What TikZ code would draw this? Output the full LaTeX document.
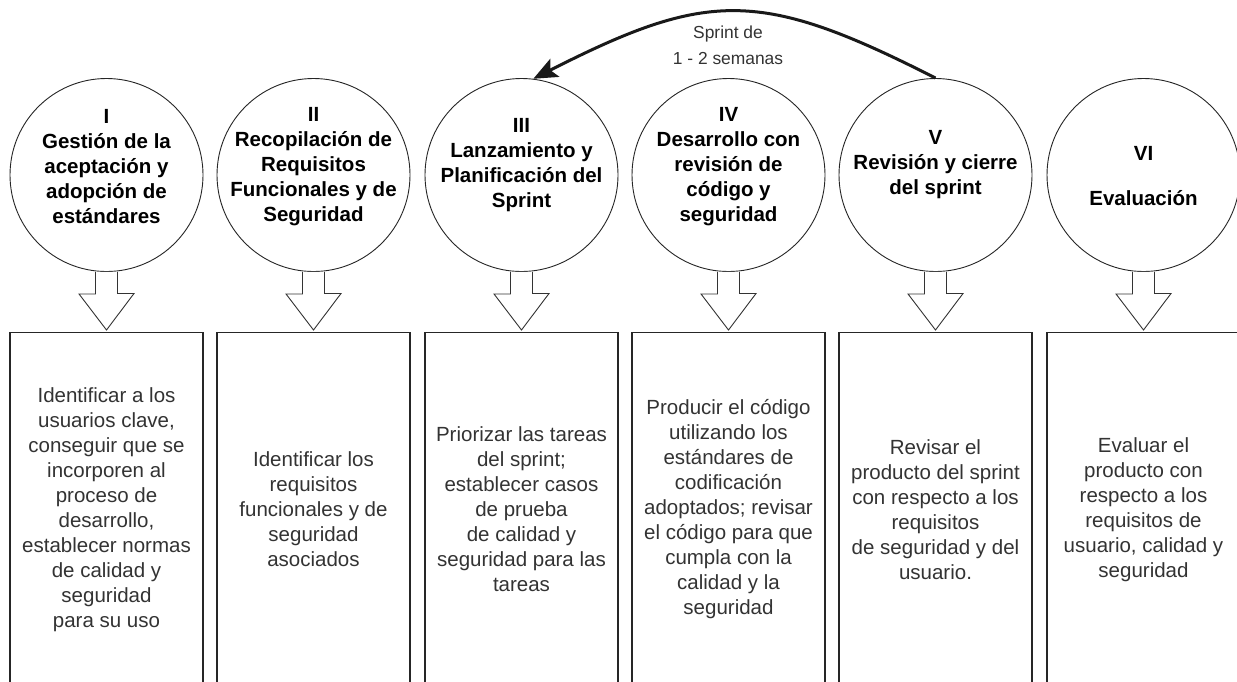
\documentclass[tikz,border=0pt]{standalone}
\usepackage{fontspec}
\setmainfont{Liberation Sans}
\usetikzlibrary{arrows.meta}
\begin{document}
\begin{tikzpicture}[x=1pt,y=-1pt,
  phase/.style={circle,draw=black!85,line width=0.9pt,fill=white,
    minimum size=193pt,inner sep=0pt},
  phasetext/.style={align=center,text=black,
    font=\fontsize{20.5}{25}\selectfont\bfseries},
  taskbox/.style={rectangle,draw=black!85,line width=1.1pt,fill=white,
    minimum width=193pt,minimum height=354pt,inner sep=0pt,anchor=north,
    align=center,text=black!80,font=\fontsize{20.5}{25}\selectfont},
  blockarrow/.style={draw=black!80,line width=0.9pt,fill=white,line join=miter},
  sprintarrow/.style={line width=3pt,black!90,-{Stealth[length=24pt,width=20pt,inset=5pt]}},
  looplabel/.style={align=center,text=black!80,font=\fontsize{17.4}{26}\selectfont}
]
\useasboundingbox (0,0) rectangle (1237,681);
\clip (0,0) rectangle (1237,681);

% phase circles
\node[phase] (c1) at (106.5,175) {};
\node[phase] (c2) at (313.5,175) {};
\node[phase] (c3) at (521.5,175) {};
\node[phase] (c4) at (728.5,175) {};
\node[phase] (c5) at (935.5,175) {};
\node[phase] (c6) at (1143.5,175) {};

% phase titles
\node[phasetext] (t1) at (106.5,166.5) {I\\Gestión de la\\aceptación y\\adopción de\\estándares};
\node[phasetext] (t2) at (313.5,166.5) {II\\Recopilación de\\Requisitos\\Funcionales y de\\Seguridad};
\node[phasetext] (t3) at (521.5,165.5) {III\\Lanzamiento y\\Planificación del\\Sprint};
\node[phasetext] (t4) at (728.5,166.5) {IV\\Desarrollo con\\revisión de\\código y\\seguridad};
\node[phasetext] (t5) at (935.5,165) {V\\Revisión y cierre\\del sprint};
\node[phasetext] (t6) at (1143.5,176.5) {VI\\[20pt]Evaluación};

% activity boxes
\node[taskbox] (b1) at (106.5,332) {Identificar a los\\usuarios clave,\\conseguir que se\\incorporen al\\proceso de\\desarrollo,\\establecer normas\\de calidad y\\seguridad\\para su uso};
\node[taskbox] (b2) at (313.5,332) {Identificar los\\requisitos\\funcionales y de\\seguridad\\asociados};
\node[taskbox] (b3) at (521.5,332) {Priorizar las tareas\\del sprint;\\establecer casos\\de prueba\\de calidad y\\seguridad para las\\tareas};
\node[taskbox] (b4) at (728.5,332) {Producir el código\\utilizando los\\estándares de\\codificación\\adoptados; revisar\\el código para que\\cumpla con la\\calidad y la\\seguridad};
\node[taskbox] (b5) at (935.5,332) {Revisar el\\producto del sprint\\con respecto a los\\requisitos\\de seguridad y del\\usuario.};
\node[taskbox] (b6) at (1143.5,332) {Evaluar el\\producto con\\respecto a los\\requisitos de\\usuario, calidad y\\seguridad};

% hollow block arrows from each phase to its activities
\foreach \i in {1,...,6}{
  \draw[blockarrow] ([xshift=-11pt]c\i.south) -- ++(0,22) -- ++(-16.5,0)
    -- ([yshift=2pt]b\i.north) -- ++(27.5,-36.5) -- ++(-16.5,0)
    -- ([xshift=11pt]c\i.south);
}

% sprint loop from review back to planning
\draw[sprintarrow] (c5.north) .. controls +(-175,-89) and +(175,-89) .. (c3.83);
\node[looplabel] (loop) at (728,45) {Sprint de\\1 - 2 semanas};
\end{tikzpicture}
\end{document}
